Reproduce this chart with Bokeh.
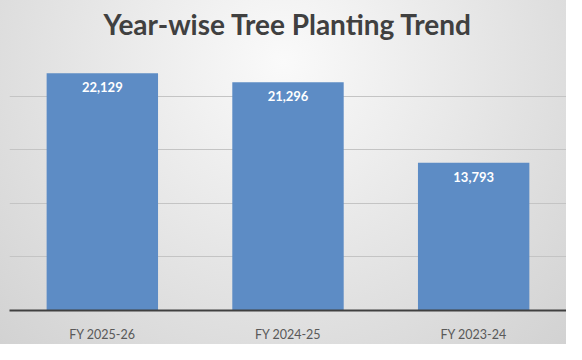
from bokeh.plotting import figure
from bokeh.models import ColumnDataSource, Range1d, FixedTicker
from bokeh.core.properties import value
from bokeh.embed import file_html
from bokeh.resources import INLINE

categories = ["FY 2025-26", "FY 2024-25", "FY 2023-24"]
trees_planted = [22129, 21296, 13793]
value_labels = ["22,129", "21,296", "13,793"]
grid_ticks = [0, 5000, 10000, 15000, 20000, 25000]

src = ColumnDataSource(dict(cat=categories, val=trees_planted, lab=value_labels))

p = figure(x_range=categories, width=566, height=344, output_backend="svg",
           toolbar_location=None, title="Year-wise Tree Planting Trend",
           min_border_left=9, min_border_right=0, min_border_bottom=30, min_border_top=42)
p.y_range = Range1d(0, 25000)
p.x_range.range_padding = 0
p.background_fill_color = None
p.border_fill_color = None
p.outline_line_color = None
p.styles = {"background": "radial-gradient(ellipse farthest-corner at 50% 18%, #fafafa 0%, #e6e6e6 50%, #d2d2d2 100%)"}

p.title.text_font = "Lato"
p.title.text_font_size = "28px"
p.title.text_font_style = "bold"
p.title.text_color = "#404040"
p.title.align = "center"
p.title.standoff = 4

p.vbar(x="cat", top="val", width=0.6, source=src, fill_color="#5d8cc5", line_color=None)
p.text(x="cat", y="val", text="lab", source=src, text_align="center", text_baseline="top",
       y_offset=9, text_color="white", text_font=value("Lato"), text_font_size="13px",
       text_font_style="bold")

p.yaxis.visible = False
p.yaxis.ticker = FixedTicker(ticks=grid_ticks)
p.ygrid.ticker = FixedTicker(ticks=grid_ticks[1:-1])
p.ygrid.grid_line_color = "#c4c4c4"
p.ygrid.grid_line_width = 1
p.xgrid.grid_line_color = None

p.xaxis.axis_line_color = "#404040"
p.xaxis.axis_line_width = 2
p.xaxis.major_tick_line_color = None
p.xaxis.minor_tick_line_color = None
p.xaxis.major_label_text_font = "Lato"
p.xaxis.major_label_text_font_size = "12.5px"
p.xaxis.major_label_text_color = "#595959"
p.xaxis.major_label_standoff = 10

open("out.html", "w").write(file_html(p, INLINE))
